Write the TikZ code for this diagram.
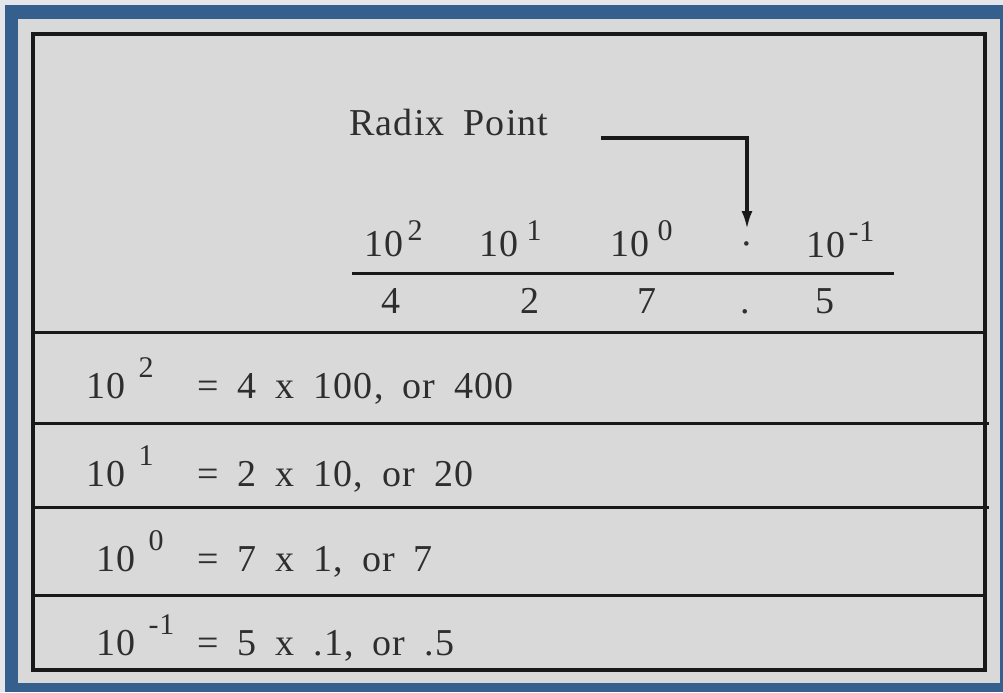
\documentclass[tikz,border=0pt]{standalone}
\usepackage{fontspec}
\setmainfont{Liberation Serif}[LetterSpace=3,WordSpace=1.78]
\usetikzlibrary{arrows.meta}
\definecolor{frameB}{RGB}{53,95,141}
\definecolor{panelG}{RGB}{217,217,217}
\definecolor{edgeL}{RGB}{228,230,233}
% power of ten: gap, raise, exponent
\newcommand{\tp}[3]{10\hspace{#1}\raisebox{#2}{\fontsize{15}{15}\selectfont #3}}

\begin{document}
\begin{tikzpicture}[x=0.5pt,y=-0.5pt,
  txt/.style={font=\fontsize{19}{22}\selectfont,inner sep=0pt,text=black!82},
  rule/.style={line width=1.5pt,black!90}]
% frame and panel
\fill[edgeL] (0,0) rectangle (1003,692);
\fill[frameB] (5,5) rectangle (1003,692);
\fill[panelG] (18,19) rectangle (1000,683);
\draw[line width=1.8pt,black!90] (33,34) rectangle (985,670);
\foreach \y/\e in {332/985,423/989,507/989,595/985} \draw[rule] (33,\y) -- (\e,\y);
% header
\node[txt,anchor=base west] (radix) at (349,135) {Radix Point};
\node[txt,anchor=base west] (h2) at (364,256) {\tp{2pt}{0.4em}{2}};
\node[txt,anchor=base west] (h1) at (479,256) {\tp{4pt}{0.4em}{1}};
\node[txt,anchor=base west] (h0) at (610,256) {\tp{4pt}{0.4em}{0}};
\node[txt,anchor=base] (hdot) at (747,256) {\textperiodcentered};
\node[txt,anchor=base west] (hm1) at (806,257) {\tp{1.5pt}{0.4em}{-1}};
\draw[rule] (352,273) -- (894,273);
\foreach \d/\x [count=\i] in {4/391,2/530,7/647,./745,5/825}
  \node[txt,anchor=base] (dg\i) at (\x,313) {\d};
% arrow to the radix point
\coordinate (arrS) at (601,138);
\coordinate (tip) at (747,229);
\draw[line width=1.6pt,black!90,-{Latex[length=9pt,width=5.5pt]}] (arrS) -| (tip);
% rows
\foreach \n/\e/\txt/\y/\x in {1/2/{= 4 x 100, or 400}/398/86,
    2/1/{= 2 x 10, or 20}/486/86,
    3/0/{= 7 x 1, or 7}/571/96,
    4/-1/{= 5 x .1, or .5}/655/96} {
  \node[txt,anchor=base west] (p\n) at (\x,\y) {\tp{6.5pt}{0.55em}{\e}};
  \node[txt,anchor=base west] (e\n) at (197,\y) {\txt};
}
\end{tikzpicture}
\end{document}
